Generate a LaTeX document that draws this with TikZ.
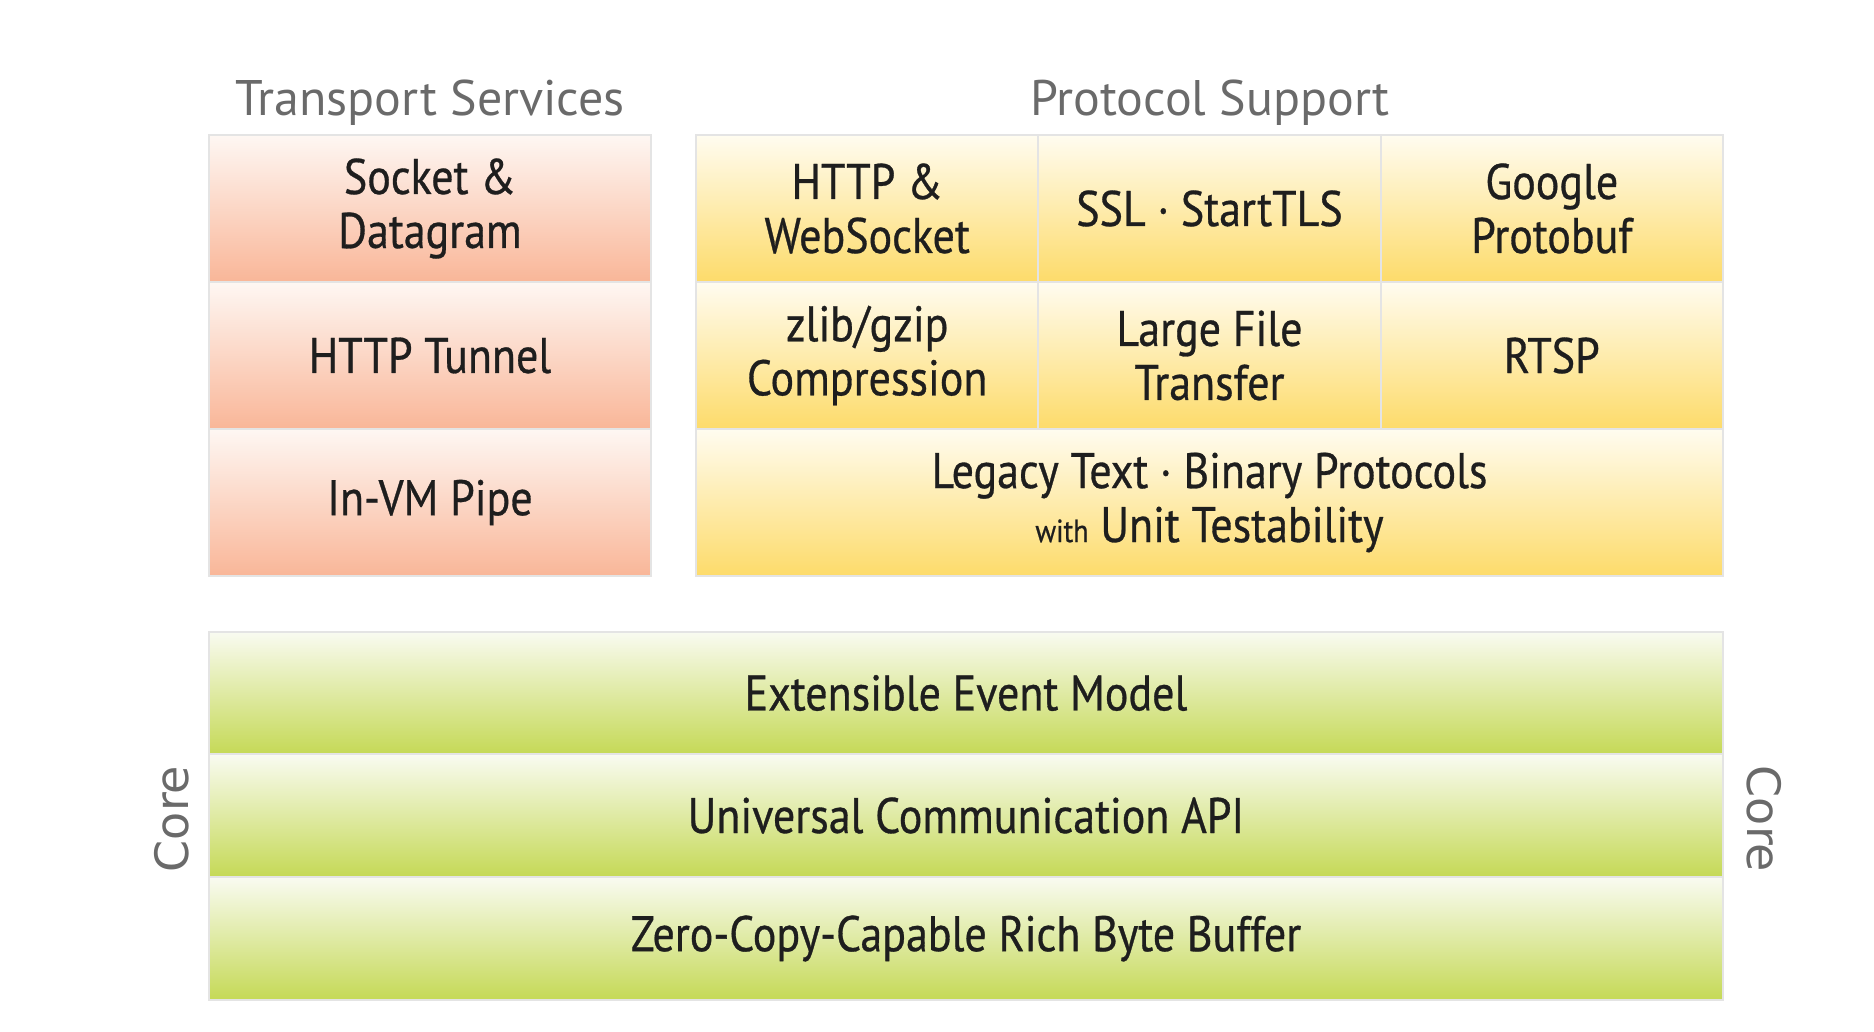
\documentclass[tikz,border=0pt]{standalone}
\usepackage{fontspec}
\setmainfont{PT Sans}
\newfontfamily\cellfont{PT Sans}[FakeStretch=0.88, FakeBold=0.6]
\newfontfamily\corefont{DejaVu Sans}
\definecolor{salmon}{HTML}{F9B698}
\definecolor{salmontop}{HTML}{FEF7F3}
\definecolor{gold}{HTML}{FDDB6A}
\definecolor{goldtop}{HTML}{FFFCF0}
\definecolor{lime}{HTML}{C5D956}
\definecolor{limetop}{HTML}{F9FBF1}
\definecolor{cellborder}{HTML}{E4E4E4}
\definecolor{titlegray}{HTML}{6A6A6A}
\definecolor{txt}{HTML}{1E1E1E}
\tikzset{
  cell/.style={draw=cellborder, line width=1pt, inner sep=0pt, outer sep=0pt,
    align=center, text=txt, font=\cellfont\fontsize{25}{27}\selectfont},
  tcell/.style={cell, top color=salmontop, bottom color=salmon,
    minimum width=221pt, minimum height=73.5pt},
  pcell/.style={cell, top color=goldtop, bottom color=gold,
    minimum width=171.17pt, minimum height=73.5pt},
  wcell/.style={cell, top color=goldtop, bottom color=gold,
    minimum width=513.5pt, minimum height=73.5pt},
  gcell/.style={cell, top color=limetop, bottom color=lime,
    minimum width=757pt, minimum height=61.3pt},
  title/.style={text=titlegray, font=\fontsize{25}{28}\selectfont, inner sep=0pt},
  corelbl/.style={text=titlegray, font=\corefont\fontsize{23}{26}\selectfont, inner sep=0pt}
}
\begin{document}
\begin{tikzpicture}[x=0.5pt, y=-0.5pt]
\useasboundingbox (0,0) rectangle (1874,1032);
% titles
\node[title] (ttrans) at (430,103) {Transport Services};
\node[title] (tproto) at (1210,103) {Protocol Support};
% transport services
\node[tcell] (sock) at (430,208.5) {Socket \&\\Datagram};
\node[tcell] (tunnel) at (430,355.5) {HTTP Tunnel};
\node[tcell] (pipe) at (430,502.5) {In-VM Pipe};
% protocol support
\node[pcell] (http) at (867.2,208.5) {HTTP \&\\WebSocket};
\node[pcell] (ssl) at (1209.5,208.5) {SSL · StartTLS};
\node[pcell] (pbuf) at (1551.8,208.5) {Google\\Protobuf};
\node[pcell] (zlib) at (867.2,355.5) {zlib/gzip\\Compression};
\node[pcell] (lfile) at (1209.5,355.5) {Large File\\Transfer};
\node[pcell] (rtsp) at (1551.8,355.5) {RTSP};
\node[wcell] (legacy) at (1209.5,502.5) {Legacy Text · Binary Protocols\\{\fontsize{16}{27}\selectfont with} Unit Testability};
% core
\node[gcell] (event) at (966,693) {Extensible Event Model};
\node[gcell] (api) at (966,815.5) {Universal Communication API};
\node[gcell] (buf) at (966,938.5) {Zero-Copy-Capable Rich Byte Buffer};
\node[corelbl, rotate=90] (coreL) at (172,819) {Core};
\node[corelbl, rotate=-90] (coreR) at (1764,819) {Core};
\end{tikzpicture}
\end{document}
